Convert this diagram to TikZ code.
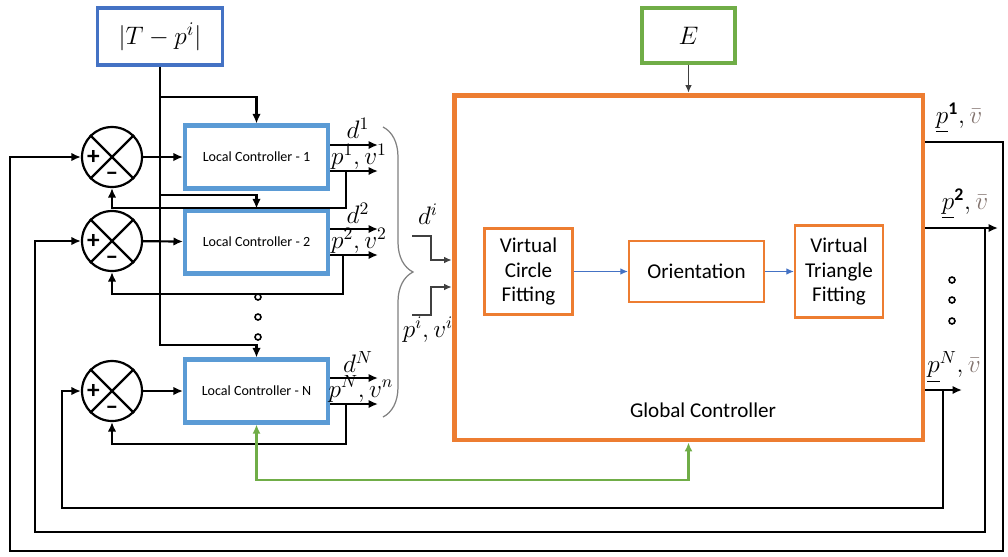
\documentclass[tikz,border=0pt]{standalone}
\usepackage{amsmath}
\usepackage{fontspec}
\setmainfont{Carlito}
\usetikzlibrary{positioning,arrows.meta,decorations.pathreplacing}

\definecolor{lcblue}{RGB}{91,155,213}
\definecolor{topblue}{RGB}{68,114,196}
\definecolor{gcorange}{RGB}{237,125,49}
\definecolor{egreen}{RGB}{112,173,71}
\definecolor{vgray}{RGB}{130,115,110}

\begin{document}
\begin{tikzpicture}[
  x=0.02cm, y=-0.02cm,
  lc/.style={rectangle, draw=lcblue, line width=2.3pt, minimum width=2.86cm,
             minimum height=1.26cm, font=\fontsize{8}{10}\selectfont},
  topbox/.style={rectangle, line width=1.8pt, font=\fontsize{15}{17}\selectfont},
  sumj/.style={circle, draw, line width=1.25pt, minimum size=1.2cm, inner sep=0pt},
  sgn/.style={font=\bfseries\Large, inner sep=0pt},
  stage/.style={rectangle, draw=gcorange, line width=1.3pt, align=center,
                font=\fontsize{12}{14.2}\selectfont},
  lbl/.style={font=\fontsize{14.5}{16}\selectfont, inner sep=1pt},
  arrow/.style={-{Latex[length=1.9mm,width=1.7mm]}, line width=1.25pt},
  thinarrow/.style={-{Latex[length=1.5mm,width=1.3mm]}, line width=0.6pt, black!75},
  dotc/.style={circle, draw, line width=0.9pt, inner sep=0pt, minimum size=0.12cm}
]
\useasboundingbox (0,0) rectangle (1008,556);

% reference and environment boxes
\node[topbox, draw=topblue, minimum width=2.5cm, minimum height=1.14cm] (tgap) at (160,36.5) {$|T-p^i|$};
\node[topbox, draw=egreen, minimum width=1.86cm, minimum height=1.1cm] (ebox) at (688.5,35.5) {$E$};

% summing junctions
\node[sumj] (s1) at (112,157) {};
\node[sumj] (s2) at (112,241) {};
\node[sumj] (sN) at (112,391) {};
\foreach \s in {s1,s2,sN} {
  \draw[line width=1.25pt] (\s.north east) -- (\s.south west) (\s.north west) -- (\s.south east);
  \node[sgn] (\s-plus) at ([xshift=-0.37cm]\s.center) {+};
  \node[sgn] (\s-minus) at ([yshift=-0.38cm]\s.center) {–};
}

% local controllers
\node[lc] (lc1) at (256.5,157) {Local Controller - 1};
\node[lc] (lc2) at (256.5,242) {Local Controller - 2};
\node[lc] (lcN) at (256.5,391) {Local Controller - N};
\foreach \y [count=\i] in {297,317,337} \node[dotc] (ldot\i) at (258,\y) {};

\draw[arrow] (s1) -- (lc1);
\draw[arrow] (s2) -- (lc2);
\draw[arrow] (sN) -- (lcN);

% reference distribution
\coordinate (tb1) at (160,97);
\coordinate (tb2) at (160,195);
\coordinate (tbN) at (160,345);
\draw[arrow] (tgap.south) -- (tbN) -| (lcN.north);
\draw[arrow] (tb1) -| (lc1.north);
\draw[arrow] (tb2) -| (lc2.north);

% outputs of the local controllers
\coordinate (d1e) at (378,145); \coordinate (o1e) at (378,171);
\coordinate (d2e) at (378,229); \coordinate (o2e) at (378,255);
\coordinate (dNe) at (378,378); \coordinate (oNe) at (378,404);
\draw[arrow] (lc1.east |- d1e) -- (d1e);
\draw[arrow] (lc1.east |- o1e) -- (o1e);
\draw[arrow] (lc2.east |- d2e) -- (d2e);
\draw[arrow] (lc2.east |- o2e) -- (o2e);
\draw[arrow] (lcN.east |- dNe) -- (dNe);
\draw[arrow] (lcN.east |- oNe) -- (oNe);
\node[lbl] (d1l) at (358,128) {$d^1$};
\node[lbl] (o1l) at (359,157) {$p^1, v^1$};
\node[lbl] (d2l) at (358,213) {$d^2$};
\node[lbl] (o2l) at (359,241) {$p^2, v^2$};
\node[lbl] (dNl) at (358,362) {$d^N$};
\node[lbl] (oNl) at (361,389) {$p^N, v^n$};

% local feedback
\coordinate (f1) at (346,208);
\coordinate (f2) at (343,294);
\coordinate (fN) at (346,444);
\draw[arrow] (o1e -| f1) -- (f1) -| (s1.south);
\draw[arrow] (o2e -| f2) -- (f2) -| (s2.south);
\draw[arrow] (oNe -| fN) -- (fN) -| (sN.south);

% brace and inputs of the global controller
\draw[gray, line width=0.7pt, decorate, decoration={brace, amplitude=0.6cm}] (383,127) -- (383,417);
\node[draw=gcorange, line width=2.8pt, minimum width=9.38cm, minimum height=6.9cm] (gc) at (688.5,267.5) {};
\node[font=\fontsize{12}{14}\selectfont] (gcl) at (703,410) {Global Controller};
\coordinate (dis) at (412,236);
\coordinate (pvs) at (412,315);
\draw[thinarrow] (dis) -| (431,260) -- (gc.west |- 0,260);
\draw[thinarrow] (pvs) -| (431,287) -- (gc.west |- 0,287);
\node[lbl] (dil) at (428,214) {$d^i$};
\node[lbl] (pvl) at (428,330) {$p^i, v^i$};
\draw[thinarrow] (ebox) -- (gc);

% stages
\node[stage, minimum width=1.76cm, minimum height=1.72cm] (vcf) at (528.5,271.5) {Virtual\\Circle\\Fitting};
\node[stage, minimum width=2.7cm, minimum height=1.22cm] (ori) at (696.5,271.5) {Orientation};
\node[stage, minimum width=1.76cm, minimum height=1.84cm] (vtf) at (839,271.5) {Virtual\\Triangle\\Fitting};
\draw[-{Latex[length=1.5mm,width=1.3mm]}, topblue, line width=0.6pt] (vcf) -- (ori);
\draw[-{Latex[length=1.5mm,width=1.3mm]}, topblue, line width=0.6pt] (ori) -- (vtf);

% link between local and global controllers
\draw[{Latex[length=1.8mm,width=1.6mm]}-{Latex[length=1.8mm,width=1.6mm]}, egreen, line width=1.2pt]
  (lcN.south) -- (lcN.south |- 0,480) -| (gc.south);

% global outputs and outer loops
\coordinate (r1) at (1003,142);
\coordinate (r2) at (998,228);
\coordinate (rN) at (962,390);
\coordinate (k2) at (985,228);
\coordinate (kN) at (943,390);
\draw[arrow] (gc.east |- r1) -- (r1) -- (1003,551) -- (10,551) |- (s1.west);
\draw[arrow] (gc.east |- r2) -- (r2);
\draw[arrow] (k2) -- (985,532) -- (35,532) |- (s2.west);
\draw[arrow] (gc.east |- rN) -- (rN);
\draw[arrow] (kN) -- (943,508) -- (62,508) |- (sN.west);
\node[lbl] (p1l) at (959,118) {$\underline{p}^{\mathbf{1}}, \textcolor{vgray}{\bar{v}}$};
\node[lbl] (p2l) at (965,204) {$\underline{p}^{\mathbf{2}}, \textcolor{vgray}{\bar{v}}$};
\node[lbl] (pNl) at (954,367) {$\underline{p}^{N}, \textcolor{vgray}{\bar{v}}$};
\foreach \y [count=\i] in {280,300,321} \node[dotc] (rdot\i) at (952,\y) {};
\end{tikzpicture}
\end{document}
